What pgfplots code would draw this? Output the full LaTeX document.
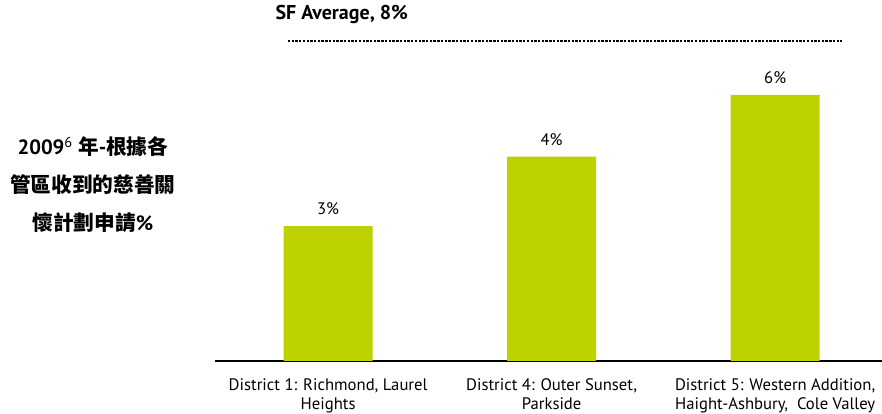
\documentclass[border=0pt]{standalone}
\usepackage{pgfplots}
\pgfplotsset{compat=1.18}
\usepackage{fontspec}
\setmainfont{PT Sans}
\newfontfamily\cjk{Noto Sans CJK TC}
\definecolor{barg}{RGB}{189,208,0}
\begin{document}
\begin{tikzpicture}
\useasboundingbox (-161.25pt,-39.75pt) rectangle (500.25pt,270.75pt);
\begin{axis}[
  scale only axis,
  width=500.25pt, height=270.75pt,
  at={(0,0)}, anchor=south west,
  xmin=-0.506, xmax=2.478,
  ymin=0, ymax=7.6,
  axis x line=bottom,
  axis y line=none,
  x axis line style={-, line width=2.2pt},
  xtick={0,1,2},
  xticklabels={{District 1: Richmond, Laurel\\Heights},{District 4: Outer Sunset,\\Parkside},{District 5: Western Addition,\\Haight-Ashbury,\ \ Cole Valley}},
  xticklabel style={align=center, font=\fontsize{12.5}{14.5}\selectfont, yshift=-9.5pt},
  major tick length=0pt,
  clip=false,
  /pgf/number format/assume math mode=true,
]
\addplot[ybar, bar width=66.75pt, fill=barg, draw=none,
  point meta=explicit,
  nodes near coords={\pgfmathprintnumber[fixed,precision=0,assume math mode=true]{\pgfplotspointmeta}\%},
  every node near coord/.append style={font=\fontsize{12.5}{14}\selectfont, yshift=5pt}]
  coordinates {(0,2.84) [3] (1,4.3) [4] (2,5.6) [6]};
\addplot[sharp plot, draw=black, densely dotted, line width=1.8pt, forget plot] coordinates {(-0.18,6.74) (2.30,6.74)};
\node[anchor=base west, font=\bfseries\fontsize{15}{17}\selectfont] at (axis cs:-0.256,7.19) {SF Average, 8\%};
\node[align=center, font=\bfseries\fontsize{15.5}{28.5}\selectfont] at (axis cs:-1.052,3.72) {2009\textsuperscript{\normalfont 6} {\cjk\bfseries 年}-{\cjk\bfseries 根據各}\\{\cjk\bfseries 管區收到的慈善關}\\{\cjk\bfseries 懷計劃申請}\%};
\end{axis}
\end{tikzpicture}
\end{document}
